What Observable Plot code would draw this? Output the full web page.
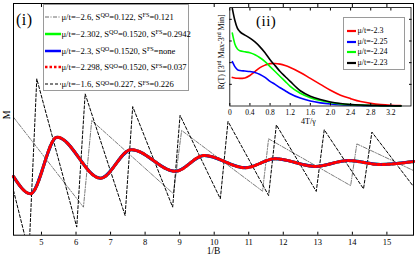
<!DOCTYPE html>
<html><head><meta charset="utf-8">
<script src="https://cdn.jsdelivr.net/npm/d3@7"></script>
<script src="https://cdn.jsdelivr.net/npm/@observablehq/plot@0.6"></script>
<style>
html,body{margin:0;padding:0;background:#fff;}
#wrap{position:relative;width:415px;height:256px;overflow:hidden;font-family:"Liberation Serif","Times New Roman",serif;color:#000;}
#wrap > svg, #wrap > div > svg{display:block;}
.layer{position:absolute;left:0;top:0;}
.lg{position:absolute;background:#fff;border:1px solid #9a9a9a;box-sizing:border-box;}
.row{position:absolute;white-space:nowrap;line-height:1;}
.row svg{position:absolute;top:-3px;overflow:visible;}
.row span{position:absolute;transform:translateY(-50%);white-space:nowrap;}
sup{font-size:72%;vertical-align:0;position:relative;top:-0.45em;line-height:0;}
.lab{position:absolute;white-space:nowrap;line-height:1;}
</style></head><body><div id="wrap"></div>
<script>
// ---------- main panel (i) data ----------
const mainXTicks = [5, 6, 7, 8, 9, 10, 11, 12, 13, 14, 15];
// damped oscillation (mu/t = -2.302, -2.3, -2.298 coincide)
const oscX = [4.19, 4.68, 5.45, 6.71, 7.60, 8.88, 9.71, 10.90, 11.77, 12.93, 13.88, 14.81, 15.77];
const oscY = [25.3, 17.9, 42.3, 24.6, 36.9, 27.6, 34.4, 29.1, 33.0, 29.7, 32.2, 30.5, 31.8];
// mu/t = -1.6 (dashed sawtooth)
const dashX = [4.19, 4.638, 4.864, 6.021, 6.264, 7.421, 7.641, 8.798, 9.012, 10.178, 10.40, 11.575, 11.80, 12.955, 13.186, 14.323, 14.566, 15.77];
const dashY = [19.3, -7.5, 67.5, 3.5, 61.0, 8.5, 55.5, 12.1, 51.7, 15.7, 49.1, 17.1, 47.6, 18.9, 45.5, 20.0, 44.5, 21.0];
// mu/t = -2.6 (dash-dot sawtooth)
const ddX = [4.19, 6.215, 6.455, 8.818, 9.058, 11.40, 11.575, 13.95, 14.13, 15.77];
const ddY = [50.9, 12.1, 49.5, 17.9, 45.2, 19.0, 41.6, 21.4, 39.4, 27.9];

// legend (i)
const muI  = ["\u22122.6", "\u22122.302", "\u22122.3", "\u22122.298", "\u22121.6"];
const sQO  = ["0.122", "0.1520", "0.1520", "0.1520", "0.227"];
const sFS  = ["0.121", "0.2942", "none", "0.037", "0.226"];

// ---------- inset (ii) data ----------
const insetXTicks = [0, 0.4, 0.8, 1.2, 1.6, 2.0, 2.4, 2.8, 3.2];
const insetYTicks = [0.22, 0.44, 0.66, 0.88];
const tX     = [0.05, 0.1, 0.15, 0.2, 0.3, 0.4, 0.5, 0.6, 0.7, 0.8, 0.9, 1.0, 1.1, 1.2, 1.4, 1.6, 1.8, 2.0, 2.2, 2.4, 2.6, 2.8, 3.0, 3.2, 3.4];
const red23   = [0.29, 0.285, 0.282, 0.28, 0.285, 0.31, 0.35, 0.39, 0.415, 0.43, 0.432, 0.425, 0.41, 0.39, 0.34, 0.28, 0.22, 0.16, 0.11, 0.075, 0.045, 0.027, 0.015, 0.008, 0.004];
const blue225 = [0.45, 0.40, 0.37, 0.36, 0.355, 0.35, 0.34, 0.32, 0.29, 0.25, 0.22, 0.185, 0.155, 0.125, 0.08, 0.05, 0.032, 0.02, 0.012, 0.008, 0.005, 0.003, 0.002, 0.001, 0.0005];
const green224 = [0.74, 0.63, 0.58, 0.56, 0.55, 0.54, 0.52, 0.49, 0.45, 0.40, 0.35, 0.30, 0.25, 0.20, 0.13, 0.085, 0.055, 0.035, 0.022, 0.014, 0.009, 0.005, 0.003, 0.002, 0.001];
const black223 = [0.99, 0.87, 0.79, 0.755, 0.72, 0.69, 0.65, 0.60, 0.54, 0.47, 0.41, 0.35, 0.30, 0.25, 0.155, 0.10, 0.065, 0.04, 0.025, 0.016, 0.01, 0.006, 0.004, 0.002, 0.001];
const muII = ["-2.3", "-2.25", "-2.24", "-2.23"];

const pts = (xs, ys) => xs.map((x, i) => ({x, y: ys[i]}));
const wrap = document.getElementById("wrap");
const serif = "Liberation Serif, Times New Roman, serif";

// ---------- main plot ----------
const osc = pts(oscX, oscY);
const main = Plot.plot({
  width: 415, height: 256,
  marginLeft: 13, marginRight: 2, marginTop: 3, marginBottom: 21.3,
  x: {domain: [4.19, 15.77]},
  y: {domain: [0, 100], axis: null},
  style: {fontFamily: serif, background: "transparent", color: "#000"},
  marks: [
    Plot.line(pts(ddX, ddY), {x: "x", y: "y", stroke: "#444", strokeWidth: 0.7, strokeDasharray: "4,1.5,1,1.5", clip: true}),
    Plot.line(pts(dashX, dashY), {x: "x", y: "y", stroke: "#000", strokeWidth: 1, strokeDasharray: "3,2", clip: true}),
    Plot.line(osc, {x: "x", y: "y", curve: "monotone-x", stroke: "#00ff00", strokeWidth: 3}),
    Plot.line(osc, {x: "x", y: "y", curve: "monotone-x", stroke: "#0000ff", strokeWidth: 3}),
    Plot.line(osc, {x: "x", y: "y", curve: "monotone-x", stroke: "#ff0000", strokeWidth: 3, strokeDasharray: "2.5,2.5"}),
    Plot.axisX({anchor: "bottom", ticks: mainXTicks, tickSize: -3, tickPadding: 7, fontSize: 8.5, label: null}),
    Plot.axisX({anchor: "top", ticks: mainXTicks, tickSize: -3, tickFormat: () => "", label: null}),
    Plot.frame({stroke: "#000"}),
    Plot.text(["1/B"], {frameAnchor: "bottom", dy: 18.5, fontSize: 9.5}),
    Plot.text(["M"], {frameAnchor: "left", dx: -7, rotate: -90, fontSize: 10})
  ]
});
main.classList.add("layer");
wrap.appendChild(main);

// "(i)"
const lab1 = document.createElement("div");
lab1.className = "lab"; lab1.textContent = "(i)";
Object.assign(lab1.style, {left: "16px", top: "12px", fontSize: "16px", letterSpacing: "0.5px"});
wrap.appendChild(lab1);

// legend (i)
const sampleStyles = [
  {stroke: "#444", w: 0.8, dash: "4,1.5,1,1.5"},
  {stroke: "#00ff00", w: 2.5, dash: null},
  {stroke: "#0000ff", w: 2.5, dash: null},
  {stroke: "#ff0000", w: 2.5, dash: "2.5,2"},
  {stroke: "#000", w: 1, dash: "3,2"}
];
const lg1 = document.createElement("div");
lg1.className = "lg";
Object.assign(lg1.style, {left: "42.5px", top: "3.5px", width: "146px", height: "87.5px"});
wrap.appendChild(lg1);
muI.forEach((m, i) => {
  const row = document.createElement("div");
  row.className = "row";
  row.style.left = "0px"; row.style.top = (12.2 + i * 16.9) + "px";
  const st = sampleStyles[i];
  const svg = document.createElementNS("http://www.w3.org/2000/svg", "svg");
  svg.setAttribute("width", "18"); svg.setAttribute("height", "6");
  svg.style.left = "1.5px";
  const ln = document.createElementNS("http://www.w3.org/2000/svg", "line");
  ln.setAttribute("x1", "0"); ln.setAttribute("x2", "16"); ln.setAttribute("y1", "3"); ln.setAttribute("y2", "3");
  ln.setAttribute("stroke", st.stroke); ln.setAttribute("stroke-width", st.w);
  if (st.dash) ln.setAttribute("stroke-dasharray", st.dash);
  svg.appendChild(ln); row.appendChild(svg);
  const sp = document.createElement("span");
  sp.style.left = "18px"; sp.style.fontSize = "8.6px";
  sp.append("\u03bc/t=" + m + ", S");
  const s1 = document.createElement("sup"); s1.textContent = "QO"; sp.append(s1);
  sp.append("=" + sQO[i] + ", S");
  const s2 = document.createElement("sup"); s2.textContent = "FS"; sp.append(s2);
  sp.append("=" + sFS[i]);
  row.appendChild(sp);
  lg1.appendChild(row);
});

// ---------- inset plot ----------
const inset = Plot.plot({
  width: 215, height: 130,
  marginLeft: 29.3, marginRight: 4.5, marginTop: 7, marginBottom: 24.5,
  x: {domain: [0, 3.6]},
  y: {domain: [0, 1], axis: null},
  style: {fontFamily: serif, background: "transparent", color: "#000"},
  marks: [
    Plot.frame({fill: "#fff", stroke: null}),
    Plot.line(pts(tX, red23), {x: "x", y: "y", curve: "monotone-x", stroke: "#ff0000", strokeWidth: 1.6}),
    Plot.line(pts(tX, blue225), {x: "x", y: "y", curve: "monotone-x", stroke: "#0000ff", strokeWidth: 1.6}),
    Plot.line(pts(tX, green224), {x: "x", y: "y", curve: "monotone-x", stroke: "#00ff00", strokeWidth: 1.6}),
    Plot.line(pts(tX, black223), {x: "x", y: "y", curve: "monotone-x", stroke: "#000", strokeWidth: 1.6}),
    Plot.axisX({anchor: "bottom", ticks: insetXTicks, tickSize: -2.5, tickPadding: 6, fontSize: 7.5, tickFormat: d => d === 0 ? "0" : d.toFixed(1), label: null}),
    Plot.axisX({anchor: "top", ticks: insetXTicks, tickSize: -2.5, tickFormat: () => "", label: null}),
    Plot.axisY({anchor: "left", ticks: insetYTicks, tickSize: -2.5, tickFormat: () => "", label: null}),
    Plot.axisY({anchor: "right", ticks: insetYTicks, tickSize: -2.5, tickFormat: () => "", label: null}),
    Plot.frame({stroke: "#000", strokeWidth: 0.8}),
    Plot.text(["4T/\u03b3"], {frameAnchor: "bottom", dy: 17.5, dx: -12, fontSize: 8})
  ]
});
inset.classList.add("layer");
inset.style.left = "200px";
wrap.appendChild(inset);

// inset y label
const ylab = document.createElement("div");
ylab.className = "lab";
Object.assign(ylab.style, {left: "221.5px", top: "52px", fontSize: "8px", transform: "translate(-50%,-50%) rotate(-90deg)"});
ylab.append("R(T) [3");
const r1 = document.createElement("sup"); r1.textContent = "rd"; ylab.append(r1);
ylab.append(" Max-3");
const r2 = document.createElement("sup"); r2.textContent = "rd"; ylab.append(r2);
ylab.append(" Min]");
wrap.appendChild(ylab);

// "(ii)"
const lab2 = document.createElement("div");
lab2.className = "lab"; lab2.textContent = "(ii)";
Object.assign(lab2.style, {left: "256px", top: "14px", fontSize: "15px", letterSpacing: "0.5px"});
wrap.appendChild(lab2);

// legend (ii)
const insetColors = ["#ff0000", "#0000ff", "#00ff00", "#000"];
const lg2 = document.createElement("div");
lg2.className = "lg";
Object.assign(lg2.style, {left: "343px", top: "17px", width: "62px", height: "53px"});
wrap.appendChild(lg2);
muII.forEach((m, i) => {
  const row = document.createElement("div");
  row.className = "row";
  row.style.left = "0px"; row.style.top = (13 + i * 10.5) + "px";
  const svg = document.createElementNS("http://www.w3.org/2000/svg", "svg");
  svg.setAttribute("width", "10"); svg.setAttribute("height", "6");
  svg.style.left = "3px";
  const ln = document.createElementNS("http://www.w3.org/2000/svg", "line");
  ln.setAttribute("x1", "0"); ln.setAttribute("x2", "9"); ln.setAttribute("y1", "3"); ln.setAttribute("y2", "3");
  ln.setAttribute("stroke", insetColors[i]); ln.setAttribute("stroke-width", 2.2);
  svg.appendChild(ln); row.appendChild(svg);
  const sp = document.createElement("span");
  sp.style.left = "13.5px"; sp.style.fontSize = "8px";
  sp.textContent = "\u03bc/t=" + m;
  row.appendChild(sp);
  lg2.appendChild(row);
});
</script></body></html>
